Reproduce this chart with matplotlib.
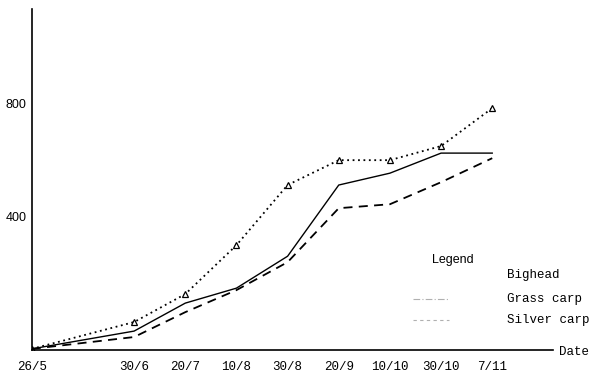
import matplotlib.pyplot as plt
from matplotlib.lines import Line2D

# sampling dates (axis position = sample number, 26/5 is two steps before 30/6)
dates = ['26/5', '30/6', '20/7', '10/8', '30/8', '20/9', '10/10', '30/10', '7/11']
sample_no = [0, 2, 3, 4, 5, 6, 7, 8, 9]

# values
bighead = [-70, 25, 124, 297, 510, 598, 598, 648, 782]
grass_carp = [-70, -7, 92, 145, 258, 510, 552, 623, 623]
silver_carp = [-70, -28, 60, 138, 237, 428, 442, 520, 605]

y_ticks = [400, 800]
legend_names = ['Bighead', 'Grass carp', 'Silver carp']

mono = 'Liberation Mono'

fig = plt.figure(figsize=(6, 3.84), dpi=100)
ax = fig.add_axes([0.053, 0.0885, 0.868, 0.888])

ax.plot(sample_no, bighead, color='black', linestyle=(0, (1, 2)), linewidth=1.3,
        marker='^', markersize=4, markerfacecolor='white', markeredgewidth=0.9)
ax.plot(sample_no, grass_carp, color='black', linestyle='-', linewidth=1.0)
ax.plot(sample_no, silver_carp, color='black', linestyle=(0, (5, 3.5)), linewidth=1.3)

ax.set_xlim(0, 10.18)
ax.set_ylim(-74, 1133)

ax.set_xticks(sample_no)
ax.set_xticklabels(dates, fontfamily=mono, fontsize=9)
ax.set_yticks(y_ticks)
ax.set_yticklabels([str(v) for v in y_ticks], fontfamily='Liberation Sans', fontsize=9)
ax.tick_params(axis='x', length=0, pad=8)
ax.tick_params(axis='y', length=0, pad=4)

for s in ['top', 'right']:
    ax.spines[s].set_visible(False)
ax.spines['left'].set_linewidth(1.2)
ax.spines['bottom'].set_linewidth(1.2)

ax.set_xlabel('Date', fontfamily=mono, fontsize=9, ha='center', va='center')
ax.xaxis.set_label_coords(1.042, -0.006)

# legend: title, faint samples on the left, names further right
ax.text(0.768, 0.264, 'Legend', transform=ax.transAxes, fontfamily='Liberation Sans',
        fontsize=9, va='center', ha='left')
sample_styles = [None, (0, (6, 2, 1, 2)), (0, (3, 3))]
row_y = [0.220, 0.150, 0.088]
for name, style, yy in zip(legend_names, sample_styles, row_y):
    ax.text(0.912, yy, name, transform=ax.transAxes, fontfamily=mono, fontsize=9,
            va='center', ha='left')
    if style is not None:
        ax.add_line(Line2D([0.731, 0.802], [yy, yy], transform=ax.transAxes,
                           color='#b0b0b0', linestyle=style, linewidth=0.8))

fig.savefig('out.png', dpi=100)
